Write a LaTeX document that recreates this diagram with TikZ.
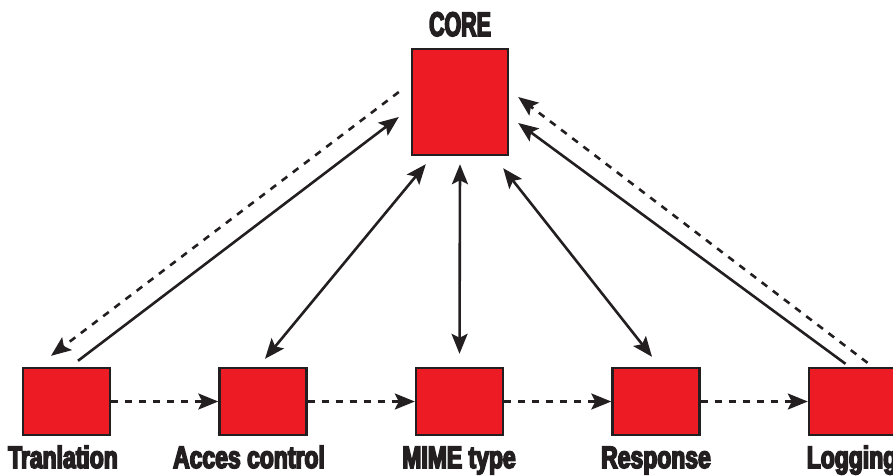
\documentclass[tikz,border=0pt]{standalone}
\usepackage{fontspec}
\usetikzlibrary{arrows.meta,calc}
\newfontfamily\labelfont[FakeStretch=0.74,FakeBold=5]{Liberation Sans Bold}
\definecolor{boxred}{HTML}{ED1C24}
\definecolor{inkdark}{HTML}{231F20}
\tikzset{
  module/.style={draw=inkdark, line width=2.4pt, fill=boxred, minimum width=87pt, minimum height=67pt, inner sep=0pt},
  corebox/.style={module, minimum width=96pt, minimum height=106pt},
  caption/.style={anchor=base, text=inkdark, inner sep=0pt, font=\labelfont\fontsize{31}{31}\selectfont},
  link/.style={draw=inkdark, line width=2.6pt, -{Stealth[length=20pt,width=16pt,inset=4pt]}},
  dlink/.style={link, {Stealth[length=20pt,width=16pt,inset=4pt]}-{Stealth[length=20pt,width=16pt,inset=4pt]}},
  flow/.style={link, dash pattern=on 7pt off 7pt}
}
\begin{document}
\begin{tikzpicture}[x=1pt,y=-1pt]
\useasboundingbox (0,0) rectangle (893,475);

% central module
\node[corebox] (core) at (460,102) {};
\node[caption, font=\labelfont\fontsize{34}{34}\selectfont] (corelbl) at (460,36) {\scalebox{0.85}[1]{CORE}};

% pipeline modules
\node[module] (tran) at (66.5,401.5) {};
\node[module] (acc)  at (263,401.5) {};
\node[module] (mime) at (459.5,401.5) {};
\node[module] (resp) at (656,401.5) {};
\node[module] (logm) at (852.5,401.5) {};

\node[caption] (tranlbl) at (63,468) {Tranlation};
\node[caption] (acclbl)  at (249,468) {Acces control};
\node[caption] (mimelbl) at (459,468) {MIME type};
\node[caption] (resplbl) at (656,468) {Response};
\node[caption] (loglbl)  at (852,468) {Logging};

% sequential flow between modules
\draw[flow] (tran.east) -- (acc.west);
\draw[flow] (acc.east) -- (mime.west);
\draw[flow] (mime.east) -- (resp.west);
\draw[flow] (resp.east) -- (logm.west);

% exchanges with the core
\draw[link] ([shift={(11.5,-6)}]tran.north) -- ([shift={(-12,15)}]core.west);
\draw[flow] ([shift={(-12,-10)}]core.west) -- ([shift={(-15.5,-11)}]tran.north);
\draw[dlink] ([shift={(2,-8)}]acc.north) -- ([shift={(15,8)}]core.south west);
\draw[dlink] ([shift={(0,-13)}]mime.north) -- ([shift={(0,8)}]core.south);
\draw[dlink] ([shift={(-4,-10)}]resp.north) -- ([shift={(-6,12)}]core.south east);
\draw[link] ([shift={(-7,-3)}]logm.north) -- ([shift={(9,21)}]core.east);
\draw[flow] ([shift={(15,-4)}]logm.north) -- ([shift={(9,-5)}]core.east);
\end{tikzpicture}
\end{document}
